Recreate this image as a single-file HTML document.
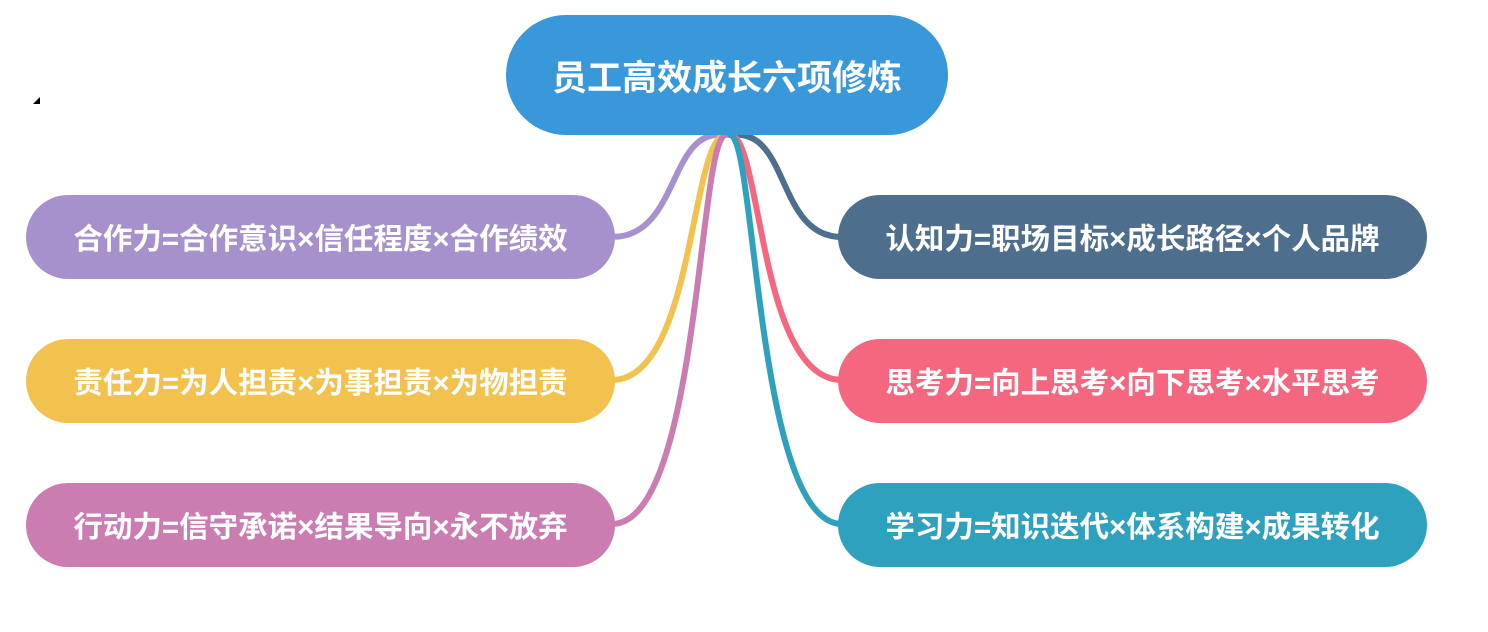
<!DOCTYPE html>
<html><head><meta charset="utf-8"><style>
body{margin:0;width:1488px;height:632px;background:#fff;position:relative;overflow:hidden;font-family:"Liberation Sans","Noto Sans CJK SC",sans-serif}
.n{position:absolute;color:#fff;font-weight:bold;display:flex;align-items:center;justify-content:center;border-radius:42px;font-size:29.5px;width:589px;height:84px}
svg{position:absolute;left:0;top:0}
</style></head><body>
<svg width="1488" height="632">
<g fill="none" stroke-width="6" stroke-linecap="round">
<path d="M724,135 C668,128 680,237 612,237" stroke="#a791cc"/>
<path d="M726,135 C690,135 695,380 612,380" stroke="#f2c14e"/>
<path d="M726,135 C698,135 700,524 612,524" stroke="#cb7db1"/>
<path d="M732,135 C790,128 776,237 842,237" stroke="#4e6e8e"/>
<path d="M730,135 C762,135 758,380 842,380" stroke="#f4677f"/>
<path d="M730,135 C756,135 756,524 842,524" stroke="#2ea1bf"/>
</g>
<path d="M33,104 L40,97 L40,104 Z" fill="#000"/>
</svg>
<div class="n" style="left:506px;top:15px;width:442px;height:120px;border-radius:60px;background:#3898da;font-size:35px">员工高效成长六项修炼</div>
<div class="n" style="left:26px;top:195px;background:#a791cc">合作力=合作意识×信任程度×合作绩效</div>
<div class="n" style="left:26px;top:339px;background:#f2c14e">责任力=为人担责×为事担责×为物担责</div>
<div class="n" style="left:26px;top:483px;background:#cb7db1">行动力=信守承诺×结果导向×永不放弃</div>
<div class="n" style="left:838px;top:195px;background:#4e6e8e">认知力=职场目标×成长路径×个人品牌</div>
<div class="n" style="left:838px;top:339px;background:#f4677f">思考力=向上思考×向下思考×水平思考</div>
<div class="n" style="left:838px;top:483px;background:#2ea1bf">学习力=知识迭代×体系构建×成果转化</div>
</body></html>
